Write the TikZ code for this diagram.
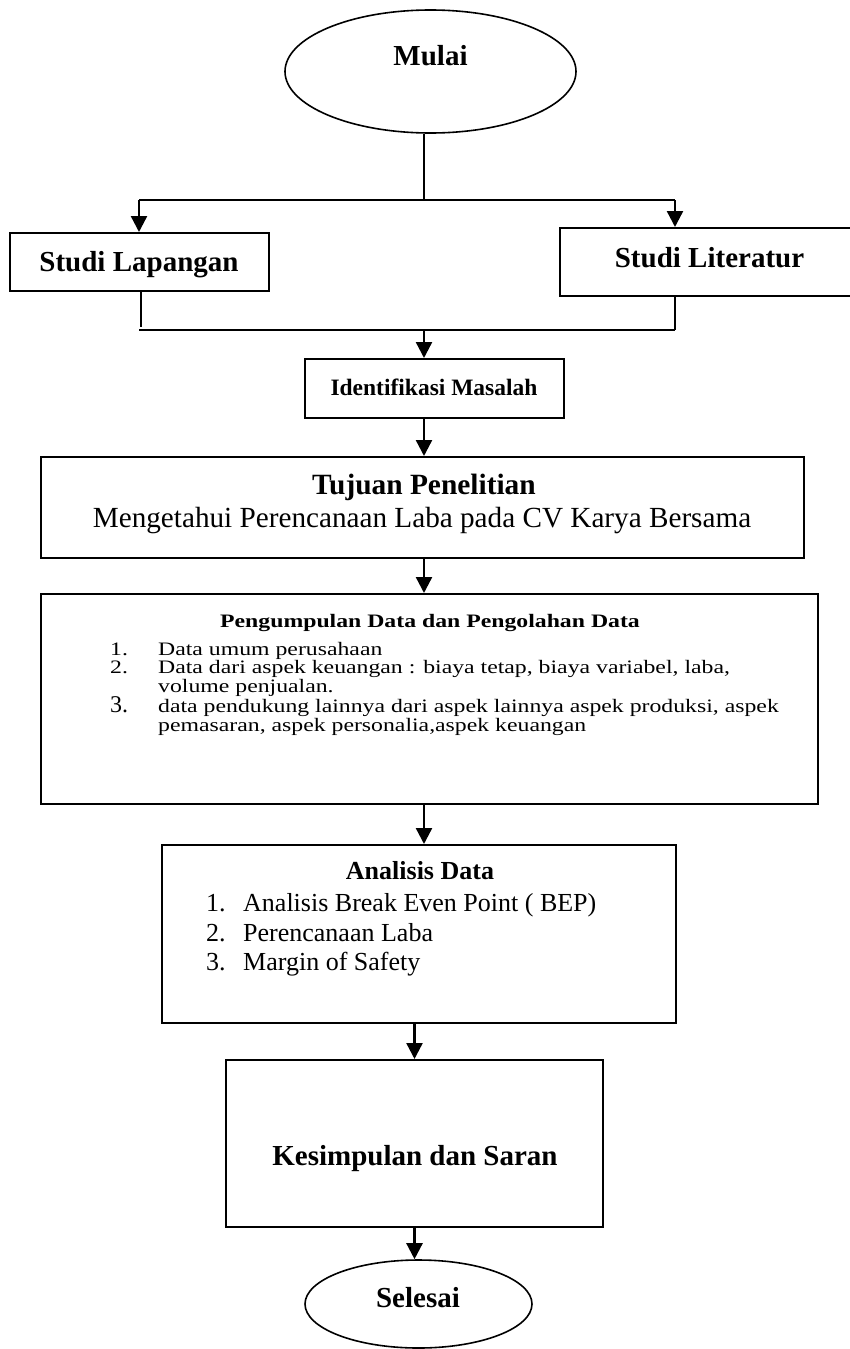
\documentclass[tikz,border=0pt]{standalone}
\usepackage{fontspec}
\setmainfont{Liberation Serif}
\newfontfamily\wideserif[FakeStretch=1.25]{Liberation Serif}
\usetikzlibrary{arrows.meta,shapes.geometric}
\begin{document}
\begin{tikzpicture}[x=1pt,y=-1pt,
  box/.style={draw, line width=2pt, rectangle, inner sep=0pt},
  oval/.style={draw, line width=1.6pt, ellipse, inner sep=0pt},
  txt/.style={inner sep=0pt, anchor=base},
  itm/.style={inner sep=0pt, anchor=base west},
  big/.style={font=\fontsize{29}{31}\selectfont\bfseries},
  pgfont/.style={font=\wideserif\fontsize{19}{19}\selectfont},
  anfont/.style={font=\fontsize{26}{28}\selectfont},
  arr/.style={line width=2.4pt, -{Triangle[width=16pt,length=16pt]}},
  thinln/.style={line width=1.3pt},
  thickln/.style={line width=2.4pt},
]
\useasboundingbox (0,0) rectangle (850,1349);

% shapes
\node[oval, minimum width=291pt, minimum height=123pt] (mulai) at (430.5,71.5) {};
\node[box, minimum width=259pt, minimum height=58pt] (lap) at (139.5,262) {};
\node[box, minimum width=310pt, minimum height=68pt] (lit) at (715,262) {};
\node[box, minimum width=259pt, minimum height=59pt] (idm) at (434.5,388.5) {};
\node[box, minimum width=763pt, minimum height=101pt] (tuj) at (422.5,507.5) {};
\node[box, minimum width=777pt, minimum height=210pt] (pg) at (429.5,699) {};
\node[box, minimum width=514pt, minimum height=178pt] (ana) at (419,934) {};
\node[box, minimum width=377pt, minimum height=167pt] (kes) at (414.5,1143.5) {};
\node[oval, minimum width=227pt, minimum height=88pt] (sel) at (418.5,1304) {};

% texts
\node[txt, big] (mulaiT) at (430.5,65) {Mulai};
\node[txt, big] (lapT) at (139,271) {Studi Lapangan};
\node[txt, big] (litT) at (709.5,267) {Studi Literatur};
\node[txt, font=\fontsize{23.5}{25}\selectfont\bfseries] (idmT) at (434,395) {Identifikasi Masalah};
\node[txt, font=\fontsize{29.4}{31}\selectfont\bfseries] (tujT) at (424,494) {Tujuan Penelitian};
\node[txt, font=\fontsize{29.2}{31}\selectfont] (tujS) at (422,527) {Mengetahui Perencanaan Laba pada CV Karya Bersama};

\node[txt, font=\wideserif\fontsize{19}{19}\selectfont\bfseries] (pgT) at (430,627) {Pengumpulan Data dan Pengolahan Data};
\node[itm, pgfont] (n1) at (110,655) {1.};
\node[itm, pgfont] (i1) at (158,655) {Data umum perusahaan};
\node[itm, pgfont] (n2) at (110,673.5) {2.};
\node[itm, pgfont] (i2) at (158,673.5) {Data dari aspek keuangan : biaya tetap, biaya variabel, laba,};
\node[itm, pgfont] (i2b) at (158,692) {volume penjualan.};
\node[itm, font=\fontsize{24}{24}\selectfont] (n3) at (110,712) {3.};
\node[itm, pgfont] (i3) at (158,712) {data pendukung lainnya dari aspek lainnya aspek produksi, aspek};
\node[itm, pgfont] (i3b) at (158,731) {pemasaran, aspek personalia,aspek keuangan};

\node[txt, font=\fontsize{26}{28}\selectfont\bfseries] (anaT) at (420,879) {Analisis Data};
\node[itm, anfont] (a1n) at (206,911) {1.};
\node[itm, anfont] (a1) at (243,911) {Analisis Break Even Point ( BEP)};
\node[itm, anfont] (a2n) at (206,941) {2.};
\node[itm, anfont] (a2) at (243,941) {Perencanaan Laba};
\node[itm, anfont] (a3n) at (206,970) {3.};
\node[itm, anfont] (a3) at (243,970) {Margin of Safety};

\node[txt, big] (kesT) at (415,1165) {Kesimpulan dan Saran};
\node[txt, big] (selT) at (418,1307) {Selesai};

% connectors
\coordinate (split) at (424,200);
\coordinate (jL) at (139,200);
\coordinate (jR) at (675,200);
\coordinate (mL) at (141,330);
\coordinate (mLtop) at (141,327);
\coordinate (mR) at (675,330);
\coordinate (mC) at (424,330);

\draw[thinln] (split |- mulai.south) -- (split);
\draw[thickln] (jL) -- (jR);
\draw[arr] (jL) -- (jL |- lap.north);
\draw[arr] (jR) -- (jR |- lit.north);

\draw[thinln] (lap.south -| mL) -- (mLtop);
\draw[thinln] (lit.south -| mR) -- (mR);
\draw[thickln] ([xshift=-2pt]mL) -- (mR);
\draw[arr] (mC) -- (mC |- idm.north);
\draw[arr] (idm.south -| mC) -- (mC |- tuj.north);
\draw[arr] (tuj.south -| mC) -- (mC |- pg.north);
\draw[arr] (pg.south -| mC) -- (mC |- ana.north);
\draw[arr] (kes.north |- ana.south) -- (kes.north);
\draw[arr] (kes.south) -- (kes.south |- sel.north);
\end{tikzpicture}
\end{document}
